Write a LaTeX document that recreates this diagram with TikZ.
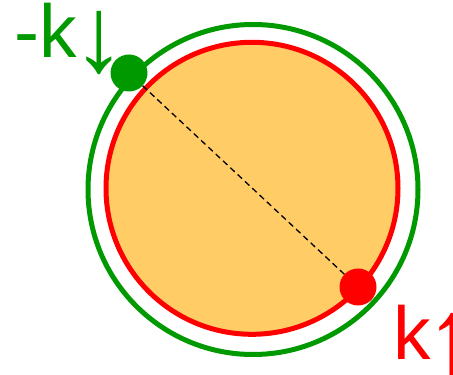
\documentclass[tikz,border=0pt]{standalone}
\usepackage{fontspec}
\setmainfont{Liberation Sans}
\usetikzlibrary{positioning}
\definecolor{spingreen}{HTML}{009900}
\definecolor{spinred}{HTML}{FF0000}
\definecolor{fermifill}{HTML}{FFCC66}
\newcommand{\spinglyph}[1]{\kern-5pt{\fontsize{107}{107}\selectfont\raisebox{-13.4pt}{#1}}}
\tikzset{
  shellring/.style={line width=5pt},
  spindot/.style={circle,inner sep=0pt,minimum size=37pt},
  spinlabel/.style={font=\fontsize{75}{75}\selectfont,inner sep=0pt,anchor=base west}
}

\begin{document}
\begin{tikzpicture}[x=1pt,y=1pt]
  \useasboundingbox (0,0) rectangle (453,375);
  % the two shells
  \draw[shellring,spingreen] (253,185.5) circle[radius=165];
  \draw[shellring,spinred,fill=fermifill] (252,186.7) circle[radius=146];
  % the paired states
  \node[spindot,fill=spingreen] (gdot) at (129,302) {};
  \node[spindot,fill=spinred] (rdot) at (358,88) {};
  \draw[dash pattern=on 6pt off 4pt,line width=1.3pt] (gdot) -- (rdot);
  \node[spinlabel,text=spingreen] (glabel) at (14.5,317) {-k\spinglyph{↓}};
  \node[spinlabel,text=spinred] (rlabel) at (393,15) {k\spinglyph{↑}};
\end{tikzpicture}
\end{document}
